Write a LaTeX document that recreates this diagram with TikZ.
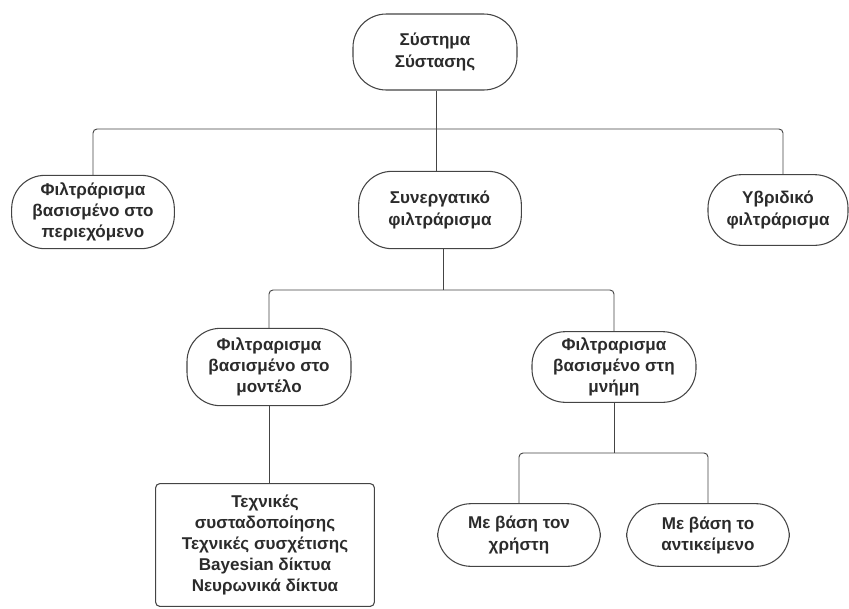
\documentclass[tikz,border=0pt]{standalone}
\usepackage{fontspec}
\setmainfont{Liberation Sans}
\definecolor{edge}{HTML}{444444}
\definecolor{ink}{HTML}{2b2b2b}
\tikzset{
  pill/.style={draw=edge, line width=0.8pt, rounded corners=25pt, align=center,
    text=ink, font=\bfseries\fontsize{12.8pt}{15.8pt}\selectfont, inner sep=0pt},
  sqbox/.style={pill, rounded corners=3pt},
  link/.style={draw=edge, line width=0.7pt, rounded corners=3pt}
}
\begin{document}
\begin{tikzpicture}[x=0.75pt,y=-0.75pt]
\useasboundingbox (0,0) rectangle (849,608);
\node[pill, minimum width=123pt, minimum height=57pt] (root) at (435,52) {Σύστημα\\Σύστασης};
\node[pill, minimum width=122pt, minimum height=55pt] (cbf) at (93,212) {Φιλτράρισμα\\βασισμένο στο\\περιεχόμενο};
\node[pill, minimum width=122pt, minimum height=58pt] (syn) at (440,210) {Συνεργατικό\\φιλτράρισμα};
\node[pill, minimum width=105pt, minimum height=53pt] (hyb) at (778,210) {Υβριδικό\\φιλτράρισμα};
\node[pill, minimum width=123pt, minimum height=58pt] (model) at (269,367) {Φιλτραρισμα\\βασισμένο στο\\μοντέλο};
\node[pill, minimum width=123pt, minimum height=53pt] (mem) at (614,367) {Φιλτραρισμα\\βασισμένο στη\\μνήμη};
\node[sqbox, minimum width=164pt, minimum height=92pt] (tech) at (265,545) {Τεχνικές\\συσταδοποίησης\\Τεχνικές συσχέτισης\\Bayesian δίκτυα\\Νευρωνικά δίκτυα};
\node[pill, minimum width=122pt, minimum height=47pt] (user) at (519,535) {Με βάση τον\\χρήστη};
\node[pill, minimum width=122pt, minimum height=47pt] (item) at (708,535) {Με βάση το\\αντικείμενο};
% junctions
\coordinate (bar1) at (436,129);
\coordinate (bar2) at (443,290);
\coordinate (bar3) at (614,453);
% first level
\draw[link] (root.south -| bar1) -- (syn.north -| bar1);
\draw[link] (cbf.north) |- (bar1) -| (hyb.north -| 783,0);
% second level
\draw[link] (syn.south -| bar2) -- (bar2);
\draw[link] (model.north) |- (bar2) -| (mem.north);
\draw[link] (model.south) -- (model.south |- tech.north);
% third level
\draw[link] (mem.south) -- (bar3);
\draw[link] (user.north) |- (bar3) -| (item.north);
\end{tikzpicture}
\end{document}
